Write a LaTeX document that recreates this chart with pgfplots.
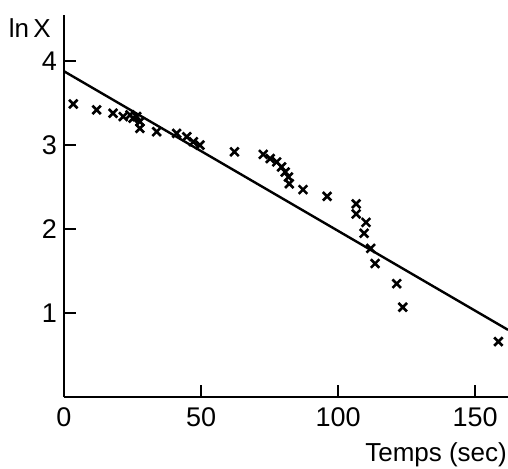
\documentclass[border=0pt]{standalone}
\usepackage{fontspec}
\setmainfont{Liberation Sans}
\usepackage{pgfplots}
\pgfplotsset{compat=1.18}

\begin{document}
\begin{tikzpicture}
\begin{axis}[
    at={(0,0)}, anchor=south west,
    scale only axis,
    width=222pt, height=191pt,
    xmin=0, xmax=162,
    ymin=0, ymax=4.55,
    axis x line*=bottom, axis y line*=left,
    axis line style={-, line width=1pt},
    x axis line style={line width=1.4pt},
    xtick={0,50,100,150},
    ytick={1,2,3,4},
    tick align=inside,
    major tick length=6pt,
    major tick style={black, line width=1.2pt},
    /pgf/number format/assume math mode=true,
    xticklabel style={font=\fontsize{13.5}{16}\selectfont, yshift=-2pt},
    yticklabel style={font=\fontsize{13.5}{16}\selectfont},
    every axis y label/.style={at={(axis description cs:-0.077,0.966)}, anchor=center},
    every axis x label/.style={at={(axis description cs:0.838,-0.150)}, anchor=center},
    ylabel={ln\,X},
    xlabel={Temps (sec)},
    label style={font=\fontsize{13}{16}\selectfont},
    clip=false,
]
% experimental points
\addplot[only marks, mark=x, mark size=3pt, line width=1.3pt] coordinates {
    (3.4,3.49) (11.9,3.42) (17.9,3.38) (21.6,3.34) (24.1,3.36)
    (25.2,3.32) (26.5,3.34) (27.7,3.28) (27.7,3.20) (33.8,3.16)
    (41.1,3.14) (44.8,3.10) (47.2,3.04) (49.6,3.00)
    (62.2,2.92) (72.7,2.89) (75.2,2.84) (77.6,2.80) (79.4,2.74)
    (80.7,2.68) (81.9,2.62) (82.2,2.54) (87.2,2.47) (96.0,2.39)
    (106.6,2.30) (106.6,2.18) (110.2,2.08) (109.5,1.95) (111.9,1.77)
    (113.5,1.59) (121.4,1.35) (123.6,1.07) (158.5,0.66)
};
% fitted line
\addplot[black, line width=1.2pt] coordinates {(0,3.88) (162,0.80)};
\end{axis}
\pgfresetboundingbox
\path (-32pt,-35.5pt) rectangle (222pt,198.5pt);
\end{tikzpicture}
\end{document}
